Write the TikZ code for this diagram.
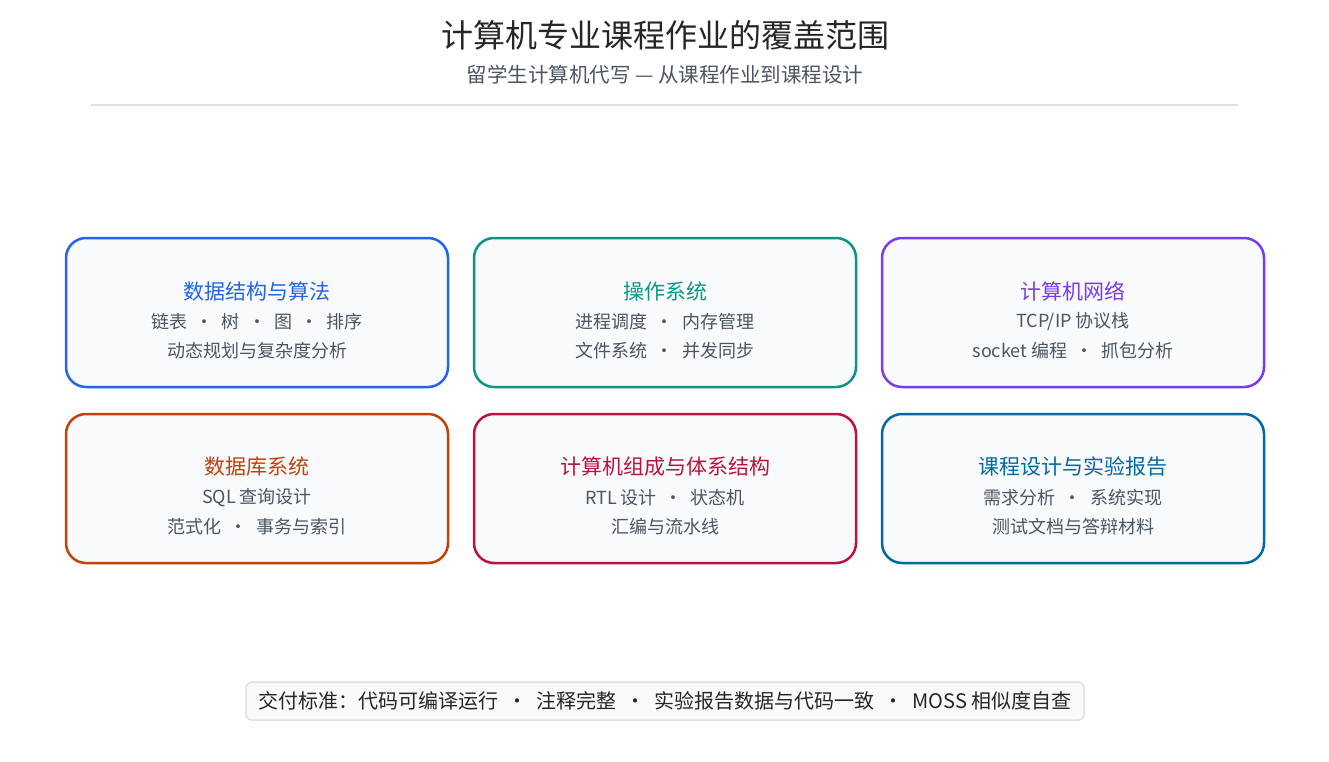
\documentclass[tikz,border=0pt]{standalone}
\usepackage{fontspec}
\setmainfont{Noto Sans CJK SC}
\begin{document}
\begin{tikzpicture}[x=1pt,y=-1pt,
 card/.style={draw=#1,line width=2.5pt,rounded corners=20pt,fill=cardfill},
 ttl/.style={text=#1,font=\fontsize{21}{25}\selectfont},
 sub/.style={text=subgray,font=\fontsize{18}{22}\selectfont}]
\definecolor{cardfill}{HTML}{F8FAFC}
\definecolor{subgray}{HTML}{4B5563}
\definecolor{cA}{HTML}{2563EB}\definecolor{cB}{HTML}{0D9488}\definecolor{cC}{HTML}{7C3AED}
\definecolor{cD}{HTML}{C2410C}\definecolor{cE}{HTML}{BE123C}\definecolor{cF}{HTML}{0369A1}
\useasboundingbox[fill=white] (0,0) rectangle (1329,761);
\node[text=black!85,font=\fontsize{32}{38}\selectfont] (title) at (665,35) {计算机专业课程作业的覆盖范围};
\node[text=subgray,font=\fontsize{20.5}{25}\selectfont] (subt) at (665,75) {留学生计算机代写 — 从课程作业到课程设计};
\draw[black!12,line width=1.2pt] (91,105) coordinate (l1) -- (1238,105) coordinate (l2);
\foreach \n/\x/\y/\c/\t/\a/\b in {
 a/66/238/cA/数据结构与算法/{链表 \ · \ 树 \ · \ 图 \ · \ 排序}/动态规划与复杂度分析,
 b/474/238/cB/操作系统/{进程调度 \ · \ 内存管理}/{文件系统 \ · \ 并发同步},
 c/882/238/cC/计算机网络/{TCP/IP 协议栈}/{socket 编程 \ · \ 抓包分析},
 d/66/414/cD/数据库系统/{SQL 查询设计}/{范式化 \ · \ 事务与索引},
 e/474/414/cE/计算机组成与体系结构/{RTL 设计 \ · \ 状态机}/汇编与流水线,
 f/882/414/cF/课程设计与实验报告/{需求分析 \ · \ 系统实现}/测试文档与答辩材料}{
 \draw[card=\c] (\x,\y) rectangle ++(382,149);
 \node[ttl=\c] (\n t) at (\x+191,\y+53) {\t};
 \node[sub] (\n 1) at (\x+191,\y+84) {\a};
 \node[sub] (\n 2) at (\x+191,\y+113) {\b};
}
\node[draw=black!12,line width=1.5pt,fill=cardfill,rounded corners=6pt,minimum width=838pt,minimum height=38pt,inner sep=0pt,text=black!85,font=\fontsize{20}{24}\selectfont] (foot) at (665,701) {交付标准：代码可编译运行 \ · \ 注释完整 \ · \ 实验报告数据与代码一致 \ · \ MOSS 相似度自查};
\end{tikzpicture}
\end{document}
